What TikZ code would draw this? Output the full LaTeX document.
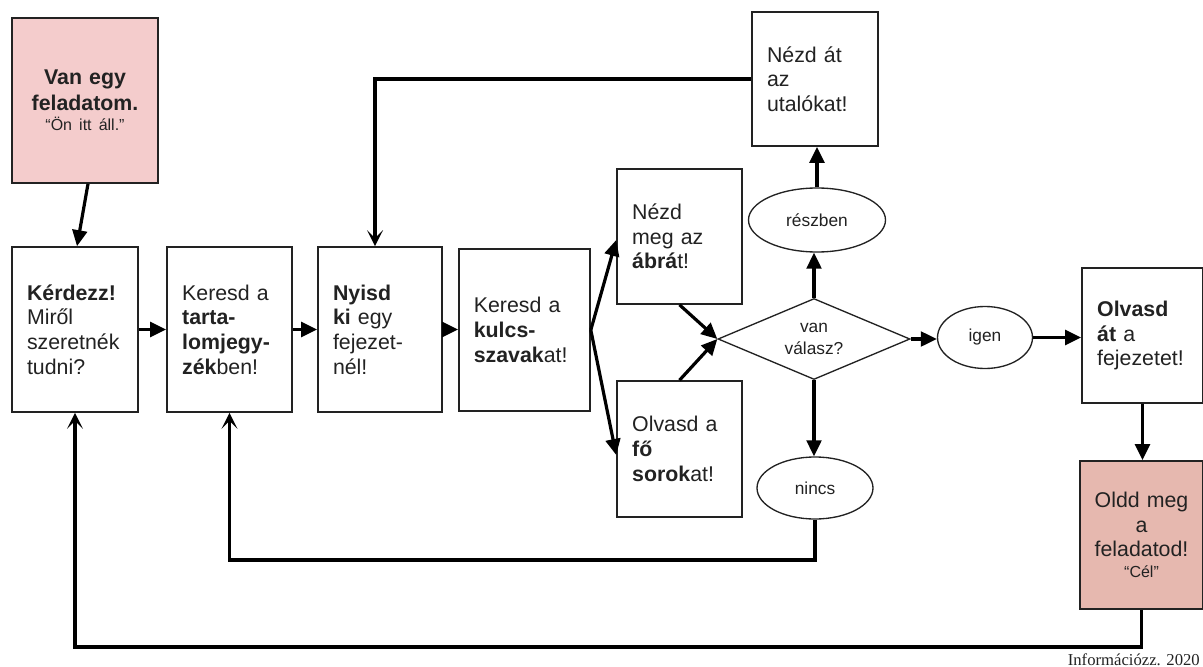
\documentclass[tikz,border=0pt]{standalone}
\usepackage{fontspec}
\setmainfont{Liberation Sans}
\newfontfamily\creditfont{Liberation Serif}
\usetikzlibrary{shapes.geometric,arrows.meta}
\definecolor{startpink}{HTML}{F4CCCC}
\definecolor{goalpink}{HTML}{E6B8AF}
\definecolor{ink}{HTML}{222222}

\begin{document}
\begin{tikzpicture}[x=0.75pt,y=-0.75pt,
  box/.style={draw=ink, line width=1.2pt, fill=white, inner sep=0pt, align=left,
    text=ink, font=\fontsize{16}{18.5}\selectfont},
  oval/.style={ellipse, draw=ink, line width=1pt, fill=white, inner sep=0pt,
    text=ink, font=\fontsize{13}{15}\selectfont},
  decision/.style={diamond, draw=ink, line width=1pt, fill=white, inner sep=0pt,
    shape aspect=2.37, align=center, text=ink, font=\fontsize{13}{16}\selectfont},
  arr/.style={draw=black, line width=2.4pt, -{Triangle[length=12pt,width=11pt]}},
  barb/.style={draw=black, line width=2.4pt, -{Stealth[length=12pt,width=12pt,inset=6pt]}}
]
\useasboundingbox (0,0) rectangle (1203,667);

% start and goal
\node[box, align=center, fill=startpink, minimum width=109.5pt, minimum height=123.75pt,
  text width=100pt] (start) at (85,100.5)
  {\fontsize{16}{19}\selectfont\textbf{Van egy}\\\textbf{feladatom.}\\[-3pt]{\fontsize{12}{14}\selectfont “Ön itt áll.”}};
\node[box, align=center, fill=goalpink, minimum width=92.25pt, minimum height=111pt,
  text width=82pt] (oldd) at (1141.5,535)
  {Oldd meg\\a\\feladatod!\\[-3pt]{\fontsize{12}{14}\selectfont “Cél”}};

% main row of steps
\node[box, minimum width=94.5pt, minimum height=123.75pt, text width=72pt] (kerd) at (75,329.5)
  {\textbf{Kérdezz!}\\Miről\\szeretnék\\tudni?};
\node[box, minimum width=93.75pt, minimum height=123.75pt, text width=71pt] (tart) at (229.5,329.5)
  {Keresd a\\\textbf{tarta-}\\\textbf{lomjegy-}\\\textbf{zék}ben!};
\node[box, minimum width=93pt, minimum height=123.75pt, text width=70.5pt] (nyisd) at (380,329.5)
  {\textbf{Nyisd}\\\textbf{ki} egy\\fejezet-\\nél!};
\node[box, minimum width=98.25pt, minimum height=121.5pt, text width=76pt] (kulcs) at (524.5,330)
  {Keresd a\\\textbf{kulcs-}\\\textbf{szavak}at!};
\node[box, minimum width=93.75pt, minimum height=101.25pt, text width=71pt] (abra) at (679.5,236.5)
  {Nézd\\meg az\\\textbf{ábrá}t!};
\node[box, minimum width=93.75pt, minimum height=102pt, text width=71pt] (fosor) at (679.5,449)
  {Olvasd a\\\textbf{fő}\\\textbf{sorok}at!};
\node[box, minimum width=94.5pt, minimum height=100.5pt, text width=72pt] (utal) at (815,79)
  {Nézd át\\az\\utalókat!};
\node[box, minimum width=90.75pt, minimum height=101.25pt, text width=68pt] (olvat) at (1142.5,335.5)
  {\textbf{Olvasd}\\\textbf{át} a\\fejezetet!};

% decision and answers
\node[decision, minimum width=144pt, minimum height=60.75pt] (dia) at (814,339) {van\\válasz?};
\node[oval, minimum width=102.75pt, minimum height=48pt] (resz) at (817,220) {részben};
\node[oval, minimum width=87pt, minimum height=46.5pt] (nincs) at (815,488) {nincs};
\node[oval, minimum width=71.25pt, minimum height=46.5pt] (igen) at (985,337.5) {igen};

\node[anchor=base east, inner sep=0pt, text=ink, font=\creditfont\fontsize{12.5}{14}\selectfont]
  (credit) at (1200,665) {Információzz. 2020};

\coordinate (low1) at (0,560);
\coordinate (low2) at (0,647);

% connectors
\draw[arr] ([xshift=2.25pt]start.south) -- ([xshift=1.5pt]kerd.north);
\draw[arr] (kerd.east) -- (tart.west);
\draw[arr] (tart.east) -- (nyisd.west);
\draw[arr] (nyisd.east) -- (nyisd.east -| kulcs.west);
\draw[arr] (kulcs.east) -- ([yshift=-2.6pt]abra.west);
\draw[arr] (kulcs.east) -- ([yshift=-4.5pt]fosor.west);
\draw[arr] (abra.south) -- (dia.west);
\draw[arr] (fosor.north) -- (dia.west);
\draw[arr] (dia.north) -- (dia.north |- resz.south);
\draw[arr] (resz.north) -- (resz.north |- utal.south);
\draw[barb] (utal.west) -| ([xshift=-3.75pt]nyisd.north);
\draw[arr] (dia.east) -- (dia.east -| igen.west);
\draw[arr] (igen.east) -- (igen.east -| olvat.west);
\draw[arr] (olvat.south) -- (olvat.south |- oldd.north);
\draw[arr] (dia.south) -- (dia.south |- nincs.north);
\draw[barb] (nincs.south) -- (nincs.south |- low1) -| (tart.south);
\draw[barb] (oldd.south) -- (oldd.south |- low2) -| (kerd.south);
\end{tikzpicture}
\end{document}
